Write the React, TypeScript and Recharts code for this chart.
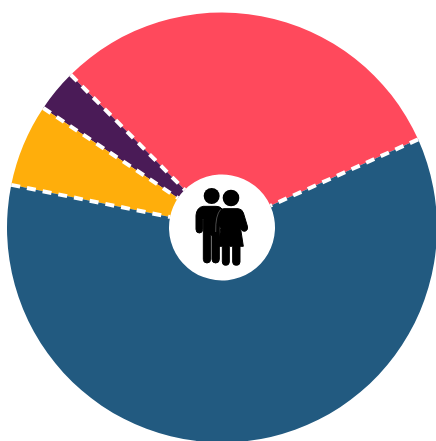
import React from 'react';
import { Customized, Pie, PieChart, Sector } from 'recharts';

const GROUPS = ['Group A', 'Group B', 'Group C', 'Group D'];
const SHARES = [30.7, 3.2, 6.2, 59.9];
const COLORS = ['#ff495c', '#4a1b57', '#ffae0b', '#225a80'];

const CX = 222;
const CY = 227.5;
const INNER_RADIUS = 53;
const OUTER_RADIUS = 215;
const START_ANGLE = 24.2;

const data = GROUPS.map((name, i) => ({ name, value: SHARES[i], fill: COLORS[i] }));

const RADIAN = Math.PI / 180;

function SliceFill(props: any) {
  return <Sector {...props} stroke="none" />;
}

// dashed divider only along the straight edge of each slice, not round the arc
function SliceDivider(props: any) {
  const { cx, cy, innerRadius, outerRadius, startAngle } = props;
  const cos = Math.cos(startAngle * RADIAN);
  const sin = Math.sin(startAngle * RADIAN);
  return (
    <line
      x1={cx + outerRadius * cos}
      y1={cy - outerRadius * sin}
      x2={cx + innerRadius * cos}
      y2={cy - innerRadius * sin}
      stroke="#fff"
      strokeWidth={4}
      strokeDasharray="9 7"
    />
  );
}

function CoupleIcon() {
  return (
    <g transform="translate(190 182) scale(0.3333)">
      {/* man */}
      <circle cx={65} cy={42} r={24} fill="#000" />
      <path
        d="M40 73 H78 Q96 73 100 90 V130 H88 V232 Q88 243 77 243 Q66 243 66 232 V160 H62 V232 Q62 243 51 243 Q40 243 40 232 V112 L38 112 V142 Q38 153 28 153 Q18 153 18 142 V100 Q20 76 40 73 Z"
        fill="#000"
        stroke="#000"
        strokeWidth={3}
      />
      {/* woman */}
      <circle cx={123} cy={48} r={25} fill="#000" />
      <path
        d="M100 80 H145 Q156 81 160 92 L172 132 Q175 146 164 148 Q156 149 153 140 L150 128 L160 193 H150 V240 Q150 250 139 250 Q128 250 128 240 V193 H118 V240 Q118 250 107 250 Q97 250 97 240 V193 H85 L92 140 Q82 120 85 100 Q88 82 100 80 Z"
        fill="#000"
        stroke="#000"
        strokeWidth={3}
      />
      {/* thin gap between the two figures */}
      <path d="M92 82 Q76 100 77 150" fill="none" stroke="#fff" strokeWidth={1.5} opacity={0.6} />
    </g>
  );
}

export default function App() {
  return (
    <div style={{ position: 'absolute', left: 0, top: 0, width: 436, height: 441, overflow: 'hidden', background: '#fff' }}>
      <PieChart width={436} height={441} margin={{ top: 0, right: 0, bottom: 0, left: 0 }}>
        <Pie
          data={data}
          dataKey="value"
          nameKey="name"
          cx={CX}
          cy={CY}
          innerRadius={INNER_RADIUS}
          outerRadius={OUTER_RADIUS}
          startAngle={START_ANGLE}
          endAngle={START_ANGLE + 360}
          paddingAngle={0}
          shape={SliceFill}
          isAnimationActive={false}
        />
        <Pie
          data={data}
          dataKey="value"
          nameKey="name"
          cx={CX}
          cy={CY}
          innerRadius={INNER_RADIUS}
          outerRadius={OUTER_RADIUS}
          startAngle={START_ANGLE}
          endAngle={START_ANGLE + 360}
          paddingAngle={0}
          shape={SliceDivider}
          isAnimationActive={false}
        />
        <Customized component={CoupleIcon} />
      </PieChart>
    </div>
  );
}
